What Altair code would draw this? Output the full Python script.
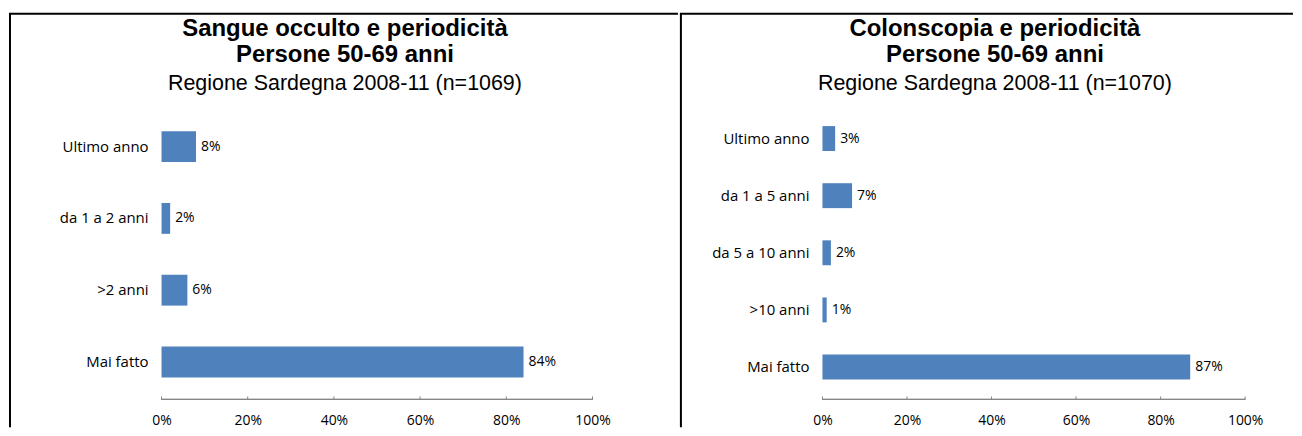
import altair as alt
import pandas as pd

# ---- data ----
LEFT_CATS = ["Ultimo anno", "da 1 a 2 anni", ">2 anni", "Mai fatto"]
LEFT_VALS = [8, 2, 6, 84]
RIGHT_CATS = ["Ultimo anno", "da 1 a 5 anni", "da 5 a 10 anni", ">10 anni", "Mai fatto"]
RIGHT_VALS = [3, 7, 2, 1, 87]
TICKS = [0, 20, 40, 60, 80, 100]
LEFT_TITLE = ["Sangue occulto e periodicità", "Persone 50-69 anni", "Regione Sardegna 2008-11 (n=1069)"]
RIGHT_TITLE = ["Colonscopia e periodicità", "Persone 50-69 anni", "Regione Sardegna 2008-11 (n=1070)"]

BLUE = "#4F81BD"
GRAY = "#868686"
H = 420
LABEL_FONT = "Open Sans"
TITLE_FONT = "Liberation Sans"


def panel(cats, vals, titles, width, xrange, yrange, pad_inner, label_x, title_x):
    df = pd.DataFrame({"cat": cats, "val": vals, "lab": [f"{v}%" for v in vals]})
    xs = alt.Scale(domain=[0, 100], range=xrange, nice=False, zero=True)
    ys = alt.Scale(domain=cats, range=yrange, paddingInner=pad_inner, paddingOuter=pad_inner / 2)
    xaxis = alt.Axis(values=TICKS, labelExpr="datum.value + '%'", domain=False, ticks=False,
                     grid=False, orient="bottom", offset=-7, labelPadding=0, labelFlush=False,
                     labelBaseline="middle", labelFont=LABEL_FONT, labelFontSize=14,
                     labelColor="#000000", title=None)
    base = alt.Chart(df)
    bars = base.mark_bar(color=BLUE).encode(
        x=alt.X("val:Q", scale=xs, axis=xaxis),
        y=alt.Y("cat:N", scale=ys, axis=None, sort=cats),
    )
    vlabels = base.mark_text(align="left", baseline="middle", dx=5, font=LABEL_FONT,
                             fontSize=14, color="#000000").encode(
        x=alt.X("val:Q", scale=xs, axis=xaxis),
        y=alt.Y("cat:N", scale=ys, axis=None, sort=cats),
        text="lab:N",
    )
    clabels = base.mark_text(align="right", baseline="middle", font=LABEL_FONT,
                             fontSize=15, color="#000000").encode(
        x=alt.value(label_x),
        y=alt.Y("cat:N", scale=ys, axis=None, sort=cats),
        text="cat:N",
    )
    tdf = pd.DataFrame({"t": TICKS})
    ticks = alt.Chart(tdf).mark_rule(color=GRAY, strokeWidth=1).encode(
        x=alt.X("t:Q", scale=xs, axis=xaxis),
        y=alt.value(389), y2=alt.value(392),
    )
    dom = alt.Chart(tdf).mark_rule(color=GRAY, strokeWidth=1).encode(
        x=alt.value(xrange[0]), x2=alt.value(xrange[1]), y=alt.value(392),
    )
    t1 = alt.Chart(pd.DataFrame({"t": [titles[0]]})).mark_text(
        font=TITLE_FONT, fontSize=24, fontWeight="bold", align="center",
        baseline="alphabetic", color="#000000").encode(
        text="t:N", x=alt.value(title_x), y=alt.value(27))
    t2 = alt.Chart(pd.DataFrame({"t": [titles[1]]})).mark_text(
        font=TITLE_FONT, fontSize=24, fontWeight="bold", align="center",
        baseline="alphabetic", color="#000000").encode(
        text="t:N", x=alt.value(title_x), y=alt.value(53.7))
    t3 = alt.Chart(pd.DataFrame({"t": [titles[2]]})).mark_text(
        font=TITLE_FONT, fontSize=21.5, align="center",
        baseline="alphabetic", color="#000000").encode(
        text="t:N", x=alt.value(title_x), y=alt.value(82))
    bdf = pd.DataFrame({"b": [0]})
    top_rule = alt.Chart(bdf).mark_rule(color="#000000", strokeWidth=2).encode(
        x=alt.value(0), x2=alt.value(width), y=alt.value(5))
    left_rule = alt.Chart(bdf).mark_rule(color="#000000", strokeWidth=2).encode(
        x=alt.value(1), y=alt.value(5), y2=alt.value(H))
    return alt.layer(top_rule, left_rule, dom, ticks, bars, vlabels, clabels, t1, t2, t3).properties(
        width=width, height=H)


left = panel(LEFT_CATS, LEFT_VALS, LEFT_TITLE, 671, [153, 585.3], [102.4, 390.4], 0.57, 140, 337)
right = panel(RIGHT_CATS, RIGHT_VALS, RIGHT_TITLE, 615, [143, 567], [101.65, 388.15], 0.564, 130, 316)

chart = alt.hconcat(left, right, spacing=0).properties(padding=0, background="white").configure_view(stroke=None)

chart.save("out.html", embed_options={"renderer": "svg", "actions": False})
